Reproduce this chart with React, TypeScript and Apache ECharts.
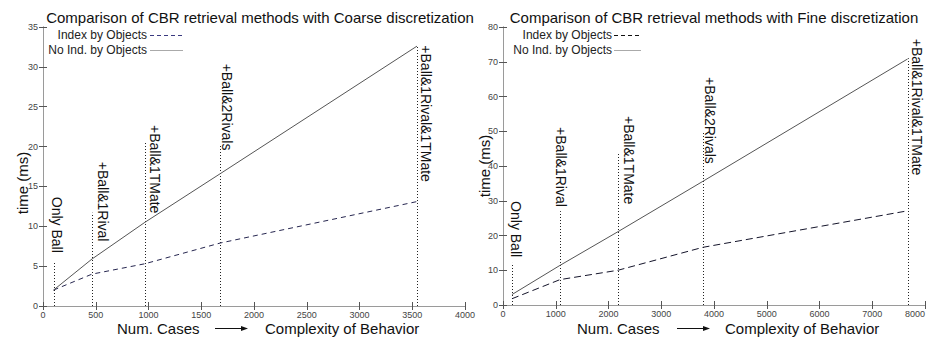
import React, { useEffect, useRef } from "react";
import * as echarts from "echarts";

// ---- data ----
const coarseCases = [100, 465, 966, 1680, 3545];
const coarseIndex = [2.0, 4.0, 5.3, 7.9, 13.1];
const coarseNoIndex = [2.0, 5.9, 10.5, 16.6, 32.6];

const fineCases = [170, 1080, 2180, 3790, 7670];
const fineIndex = [1.8, 7.3, 10.0, 16.6, 27.1];
const fineNoIndex = [3.0, 11.4, 21.1, 35.6, 70.8];

const behaviorLabels = ["Only Ball", "+Ball&1Rival", "+Ball&1TMate", "+Ball&2Rivals", "+Ball&1Rival&1TMate"];

// annotation guides (dotted line tops) and label anchors, in data units
const coarseGuideTop = [5.5, 11.7, 20.6, 20.2, 32.6];
const coarseLabelX = [135, 566, 1058, 1740, 3635];
const coarseLabelTop = [13.7, 18.1, 22.7, 30.4, 32.7];
const fineGuideTop = [12.1, 27.0, 43.7, 49.5, 71.0];
const fineLabelX = [241, 1094, 2383, 3918, 7849];
const fineLabelTop = [29.9, 51.2, 54.4, 65.6, 76.6];

const titles = [
  "Comparison of CBR retrieval methods with Coarse discretization",
  "Comparison of CBR retrieval methods with Fine discretization",
];
const seriesNames = ["Index by Objects", "No Ind. by Objects"];
const yName = "time (ms)";
const xNameLeft = "Num. Cases";
const xNameRight = "Complexity of Behavior";

const FONT = '"Liberation Sans", Arial, sans-serif';

function pairs(xs: number[], ys: number[]) {
  return xs.map((x, i) => [x, ys[i]]);
}

function guides(xs: number[], tops: number[], lx: number[], ly: number[]) {
  return xs.map((x, i) => [x, tops[i], lx[i], ly[i], i]);
}

function renderGuide(params: any, api: any) {
  const x = api.value(0);
  const top = api.value(1);
  const lx = api.value(2);
  const ly = api.value(3);
  const i = api.value(4);
  const p0 = api.coord([x, 0]);
  const p1 = api.coord([x, top]);
  const pl = api.coord([lx, ly]);
  const px = Math.round(p0[0]) + 0.5;
  return {
    type: "group",
    children: [
      {
        type: "line",
        shape: { x1: px, y1: p0[1], x2: px, y2: p1[1] },
        style: { stroke: "#222", lineWidth: 1, lineDash: [1, 2] },
      },
      {
        type: "text",
        x: pl[0],
        y: pl[1],
        rotation: -Math.PI / 2,
        style: {
          text: behaviorLabels[i],
          font: `14px ${FONT}`,
          fill: "#111",
          align: "left",
          verticalAlign: "middle",
        },
      },
    ],
  };
}

const plainNumber = (v: number) => String(v);

function xAxisPair(grid: number, max: number, interval: number, alignMax: string) {
  const common = {
    gridIndex: grid,
    type: "value",
    min: 0,
    max,
    interval,
    splitLine: { show: false },
    axisLine: { show: true, lineStyle: { color: "#9a9a9a", width: 1 } },
    axisTick: { show: true, inside: true, length: 4, lineStyle: { color: "#555" } },
  };
  return [
    {
      ...common,
      position: "bottom",
      axisLabel: {
        show: true,
        fontSize: 9,
        color: "#444",
        margin: 4,
        fontFamily: FONT,
        formatter: plainNumber,
        showMinLabel: true,
        showMaxLabel: true,
        hideOverlap: false,
        alignMaxLabel: alignMax,
      },
    },
    { ...common, position: "top", axisLabel: { show: false } },
  ];
}

function yAxisPair(grid: number, max: number, interval: number) {
  const common = {
    gridIndex: grid,
    type: "value",
    min: 0,
    max,
    interval,
    splitLine: { show: false },
    axisLine: { show: true, lineStyle: { color: "#9a9a9a", width: 1 } },
    axisTick: { show: true, inside: true, length: 4, lineStyle: { color: "#555" } },
  };
  return [
    {
      ...common,
      position: "left",
      axisLabel: {
        show: true,
        fontSize: 9,
        color: "#444",
        margin: 5,
        fontFamily: FONT,
        formatter: plainNumber,
        showMinLabel: true,
        showMaxLabel: true,
      },
    },
    { ...common, position: "right", axisLabel: { show: false } },
  ];
}

function legendGraphics(textRight: number, sampleX1: number, sampleX2: number, dashColor: string) {
  const rows = [35, 50];
  const out: any[] = [];
  rows.forEach((y, i) => {
    out.push({
      type: "text",
      x: textRight,
      y,
      style: {
        text: seriesNames[i],
        font: `12px ${FONT}`,
        fill: "#222",
        align: "right",
        verticalAlign: "middle",
      },
    });
    out.push({
      type: "line",
      shape: { x1: sampleX1, y1: y + 0.5, x2: sampleX2, y2: y + 0.5 },
      style:
        i === 0
          ? { stroke: dashColor, lineWidth: 1, lineDash: [4, 3] }
          : { stroke: "#aaa", lineWidth: 1 },
    });
  });
  return out;
}

function bottomGraphics(x1: number, a1: number, a2: number, x2: number) {
  const y = 328;
  return [
    {
      type: "text",
      x: x1,
      y,
      style: { text: xNameLeft, font: `15px ${FONT}`, fill: "#111", align: "left", verticalAlign: "middle" },
    },
    {
      type: "line",
      shape: { x1: a1, y1: y + 0.5, x2: a2 - 5, y2: y + 0.5 },
      style: { stroke: "#111", lineWidth: 1 },
    },
    {
      type: "polygon",
      shape: { points: [[a2, y + 0.5], [a2 - 7, y - 2], [a2 - 7, y + 3]] },
      style: { fill: "#111" },
    },
    {
      type: "text",
      x: x2,
      y,
      style: { text: xNameRight, font: `15px ${FONT}`, fill: "#111", align: "left", verticalAlign: "middle" },
    },
  ];
}

function yTitle(cx: number, cy: number) {
  return {
    type: "text",
    x: cx,
    y: cy,
    rotation: Math.PI / 2,
    style: { text: yName, font: `15px ${FONT}`, fill: "#111", align: "center", verticalAlign: "middle" },
  };
}

export default function App() {
  const ref = useRef<HTMLDivElement>(null);

  useEffect(() => {
    if (!ref.current) return;
    const chart = echarts.init(ref.current, undefined, { renderer: "svg" });
    const option: any = {
      animation: false,
      backgroundColor: "#fff",
      textStyle: { fontFamily: FONT },
      title: [
        {
          text: titles[0],
          left: 255,
          top: 5,
          textAlign: "center",
          textStyle: { fontSize: 15, fontWeight: "normal", color: "#111", fontFamily: FONT },
        },
        {
          text: titles[1],
          left: 709,
          top: 5,
          textAlign: "center",
          textStyle: { fontSize: 15, fontWeight: "normal", color: "#111", fontFamily: FONT },
        },
      ],
      grid: [
        { left: 43, right: 467, top: 27, bottom: 39, containLabel: false },
        { left: 503, right: 7, top: 27, bottom: 40, containLabel: false },
      ],
      xAxis: [...xAxisPair(0, 4000, 500, "center"), ...xAxisPair(1, 8000, 1000, "right")],
      yAxis: [...yAxisPair(0, 35, 5), ...yAxisPair(1, 80, 10)],
      series: [
        {
          name: seriesNames[0],
          type: "line",
          xAxisIndex: 0,
          yAxisIndex: 0,
          data: pairs(coarseCases, coarseIndex),
          showSymbol: false,
          lineStyle: { color: "#26264f", width: 1, type: [5, 4] },
        },
        {
          name: seriesNames[1],
          type: "line",
          xAxisIndex: 0,
          yAxisIndex: 0,
          data: pairs(coarseCases, coarseNoIndex),
          showSymbol: false,
          lineStyle: { color: "#555", width: 1 },
        },
        {
          type: "custom",
          xAxisIndex: 0,
          yAxisIndex: 0,
          data: guides(coarseCases, coarseGuideTop, coarseLabelX, coarseLabelTop),
          renderItem: renderGuide,
          clip: false,
        },
        {
          name: seriesNames[0],
          type: "line",
          xAxisIndex: 2,
          yAxisIndex: 2,
          data: pairs(fineCases, fineIndex),
          showSymbol: false,
          lineStyle: { color: "#14142a", width: 1, type: [7, 4] },
        },
        {
          name: seriesNames[1],
          type: "line",
          xAxisIndex: 2,
          yAxisIndex: 2,
          data: pairs(fineCases, fineNoIndex),
          showSymbol: false,
          lineStyle: { color: "#555", width: 1 },
        },
        {
          type: "custom",
          xAxisIndex: 2,
          yAxisIndex: 2,
          data: guides(fineCases, fineGuideTop, fineLabelX, fineLabelTop),
          renderItem: renderGuide,
          clip: false,
        },
      ],
      graphic: [
        ...legendGraphics(147, 150, 183, "#3a3a80"),
        ...legendGraphics(612, 614, 641, "#111"),
        ...bottomGraphics(117, 215, 248, 265),
        ...bottomGraphics(577, 677, 710, 725),
        yTitle(22.5, 183),
        yTitle(484, 166),
      ],
    };
    chart.setOption(option);
    return () => chart.dispose();
  }, []);

  return (
    <div
      ref={ref}
      style={{ position: "absolute", left: 0, top: 0, width: 932, height: 345, background: "#fff" }}
    />
  );
}
